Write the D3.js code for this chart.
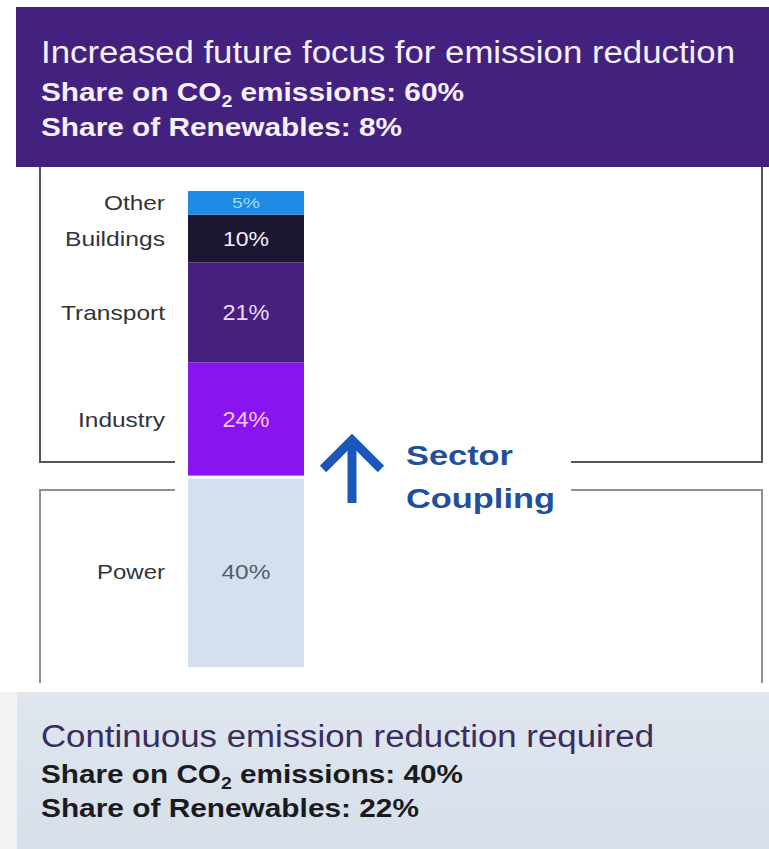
<!DOCTYPE html>
<html>
<head>
<meta charset="utf-8">
<script src="https://cdn.jsdelivr.net/npm/d3@7"></script>
<style>
  body { margin: 0; background: #ffffff; }
  text { font-family: "Liberation Sans", Arial, sans-serif; }
</style>
</head>
<body>
<div id="chartDiv"></div>
<script>
//--------------------------------------------------------------------------------
// data (bottom to top of the stacked bar)
var sectors   = ["Power", "Industry", "Transport", "Buildings", "Other"];
var shares    = [40, 24, 21, 10, 5];
var barColors = ["#d4e0ed", "#8a14f0", "#46207f", "#1b1632", "#1f8ae4"];
var valColors = ["#575c6a", "#f4c9f2", "#eed9f6", "#f2f2f2", "#9cdcff"];

var topTitle    = "Increased future focus for emission reduction";
var topShareCO2 = "60%";
var topShareRen = "8%";
var botTitle    = "Continuous emission reduction required";
var botShareCO2 = "40%";
var botShareRen = "22%";
var couplingText = ["Sector", "Coupling"];

// widths of the text as they appear in the picture (px)
var labelWidths = {Power: 68, Industry: 87, Transport: 104, Buildings: 100, Other: 61};
var valueWidths = {Power: 49, Industry: 47, Transport: 47, Buildings: 46, Other: 28};
var valueSizes  = {Power: 21, Industry: 22, Transport: 22, Buildings: 21, Other: 15};

//--------------------------------------------------------------------------------
var width = 769, height = 849;

var svg = d3.select("#chartDiv")
    .append("svg")
    .attr("width", width)
    .attr("height", height);

function addText(g, x, y, str, size, weight, color, len, anchor) {
   var t = g.append("text")
      .attr("x", x)
      .attr("y", y)
      .attr("font-size", size)
      .attr("font-weight", weight)
      .attr("fill", color)
      .attr("text-anchor", anchor || "start")
      .text(str);
   if(len) t.attr("textLength", len).attr("lengthAdjust", "spacingAndGlyphs");
   return t;
}

  // text with a subscript 2 in CO2
function addCO2Line(g, x, y, tail, color, len) {
   var t = g.append("text")
      .attr("x", x)
      .attr("y", y)
      .attr("font-size", 26)
      .attr("font-weight", "bold")
      .attr("fill", color);
   t.append("tspan").text("Share on CO");
   t.append("tspan").attr("dy", 6).attr("font-size", 17).text("2");
   t.append("tspan").attr("dy", -6).text(" emissions: " + tail);
   t.attr("textLength", len).attr("lengthAdjust", "spacingAndGlyphs");
}

//--------------------------------------------------------------------------------
// top banner
svg.append("rect")
   .attr("x", 16).attr("y", 7)
   .attr("width", width - 16).attr("height", 160)
   .attr("fill", "#43217e");

addText(svg, 41, 63, topTitle, 31, "normal", "#f6f0fb", 694);
addCO2Line(svg, 41, 101, topShareCO2, "#f6f0fb", 423);
addText(svg, 41, 136, "Share of Renewables: " + topShareRen, 26, "bold", "#f6f0fb", 361);

//--------------------------------------------------------------------------------
// bottom banner
var grad = svg.append("defs").append("linearGradient")
   .attr("id", "botGrad").attr("x1", 0).attr("y1", 0).attr("x2", 0).attr("y2", 1);
grad.append("stop").attr("offset", "0%").attr("stop-color", "#dfe6ee");
grad.append("stop").attr("offset", "100%").attr("stop-color", "#d6e0ea");

svg.append("rect")
   .attr("x", 0).attr("y", 692)
   .attr("width", 18).attr("height", height - 692)
   .attr("fill", "#f1f2f4");

svg.append("rect")
   .attr("x", 17).attr("y", 692)
   .attr("width", width - 17).attr("height", height - 692)
   .attr("fill", "url(#botGrad)");

addText(svg, 41, 747, botTitle, 31, "normal", "#3b2c5e", 613);
addCO2Line(svg, 41, 783, botShareCO2, "#1b1b1f", 422);
addText(svg, 41, 817, "Share of Renewables: " + botShareRen, 26, "bold", "#1b1b1f", 378);

//--------------------------------------------------------------------------------
// box outlines round the two groups
var lines = svg.append("g").attr("fill", "none").attr("stroke-width", 2);

lines.append("path")
   .attr("stroke", "#55565c")
   .attr("d", "M40,167 V462 H175 M571,462 H762 V167");

lines.append("path")
   .attr("stroke", "#8d9096")
   .attr("d", "M40,683 V490 H175 M571,490 H762 V683");

//--------------------------------------------------------------------------------
// stacked bar
var yScale = d3.scaleLinear()
   .domain([0, d3.sum(shares)])
   .range([667, 191]);

var barX = 188, barW = 116;

var stack = [];
var acc = 0;
for(var i = 0; i < sectors.length; i++){
   stack.push({name: sectors[i], value: shares[i], y0: acc, y1: acc + shares[i],
               color: barColors[i], valColor: valColors[i]});
   acc += shares[i];
   }

var bar = svg.append("g");

bar.selectAll("rect")
   .data(stack)
   .enter()
   .append("rect")
   .attr("x", barX)
   .attr("width", barW)
   .attr("y", function(d){ return yScale(d.y1) + (d.name == "Power" ? 2 : 0); })
   .attr("height", function(d){
      return yScale(d.y0) - yScale(d.y1) - (d.name == "Power" ? 2 : 0) - (d.name == "Industry" ? 1 : 0);
      })
   .attr("fill", function(d){ return d.color; });

  // sector names left of the bar
bar.selectAll("text.label")
   .data(stack)
   .enter()
   .append("text")
   .attr("class", "label")
   .attr("x", 165)
   .attr("y", function(d){ return (yScale(d.y0) + yScale(d.y1)) / 2 + 7.5; })
   .attr("text-anchor", "end")
   .attr("font-size", 21)
   .attr("fill", "#333337")
   .attr("textLength", function(d){ return labelWidths[d.name]; })
   .attr("lengthAdjust", "spacingAndGlyphs")
   .text(function(d){ return d.name; });

  // values inside the bar
bar.selectAll("text.value")
   .data(stack)
   .enter()
   .append("text")
   .attr("class", "value")
   .attr("x", barX + barW / 2)
   .attr("y", function(d){ return (yScale(d.y0) + yScale(d.y1)) / 2 + valueSizes[d.name] * 0.36; })
   .attr("text-anchor", "middle")
   .attr("font-size", function(d){ return valueSizes[d.name]; })
   .attr("fill", function(d){ return d.valColor; })
   .attr("textLength", function(d){ return valueWidths[d.name]; })
   .attr("lengthAdjust", "spacingAndGlyphs")
   .text(function(d){ return d.value + "%"; });

//--------------------------------------------------------------------------------
// sector coupling arrow and text
var arrow = svg.append("g")
   .attr("fill", "none")
   .attr("stroke", "#1a57b9")
   .attr("stroke-width", 9);

arrow.append("path").attr("d", "M352,503 V443");
arrow.append("path").attr("d", "M323,469 L352,440 L381,469");

addText(svg, 406, 465, couplingText[0], 28, "bold", "#1f4f9d", 107);
addText(svg, 406, 508, couplingText[1], 28, "bold", "#1f4f9d", 149);

</script>
</body>
</html>
